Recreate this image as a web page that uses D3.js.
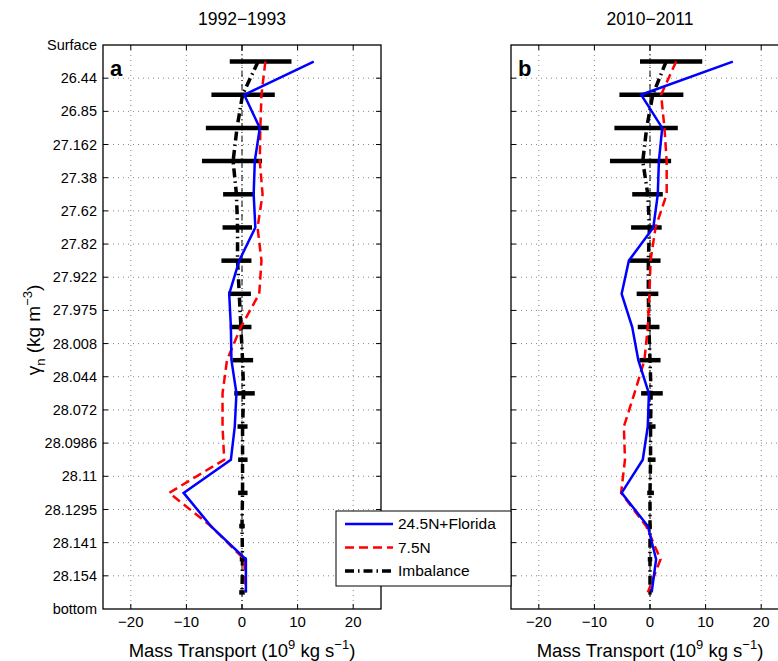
<!DOCTYPE html>
<html>
<head>
<meta charset="utf-8">
<script src="https://cdn.jsdelivr.net/npm/d3@7"></script>
<style>
  body { margin: 0; background: #fff; }
  svg text { font-family: Arial, "Liberation Sans", Helvetica, sans-serif; fill: #000; }
</style>
</head>
<body>
<svg id="chart" width="778" height="661"></svg>
<script>
// density class boundaries (surface -> bottom)
var layerLabels = ["Surface", "26.44", "26.85", "27.162", "27.38", "27.62", "27.82", "27.922",
                   "27.975", "28.008", "28.044", "28.072", "28.0986", "28.11", "28.1295",
                   "28.141", "28.154", "bottom"];
var xTicks = [-20, -10, 0, 10, 20];
var panelTitles = ["1992\u22121993", "2010\u22122011"];
var panelLetters = ["a", "b"];
var seriesNames = ["24.5N+Florida", "7.5N", "Imbalance"];

// 1992-1993, one value per layer (17 layers)
var northA = [12.9, 0.4, 3.2, 2.3, 2.1, 2.4, -0.5, -2.3, -2.0, -1.9, -1.0, -1.3, -2.0, -10.5, -5.6, 0.7, 0.7];
var southA = [4.2, 3.5, 3.3, 3.2, 3.7, 2.8, 3.5, 3.1, -0.2, -2.7, -3.5, -3.5, -3.2, -13.1, -5.6, 0.4, 0.7];
var imbalA = [2.9, 0.1, -0.9, -1.6, -1.0, -0.8, -0.8, -0.5, -0.2, 0.1, 0.3, 0.1, 0.1, 0.1, 0.0, 0.1, 0.0];
var errLoA = [-2.2, -5.5, -6.5, -7.2, -3.4, -3.5, -3.7, -2.5, -2.2, -1.7, -1.4, -0.8, -0.7, -0.7, -0.5, -0.4, -0.5];
var errHiA = [8.9, 5.9, 4.8, 3.6, 2.2, 1.8, 1.7, 1.6, 1.7, 2.0, 2.3, 1.0, 1.0, 1.0, 0.5, 0.8, 0.5];

// 2010-2011
var northB = [14.9, -1.6, 2.2, 1.6, 1.4, 0.6, -3.8, -5.1, -3.2, -2.1, -0.2, -0.4, -1.3, -5.1, -0.4, 1.1, 0.3];
var southB = [4.7, 2.0, 2.6, 3.0, 3.0, 1.0, 0.1, -0.1, -0.4, -1.0, -2.8, -4.7, -4.5, -5.2, -0.7, 1.9, -0.4];
var imbalB = [2.9, 0.5, -0.6, -1.3, -0.4, -0.1, -0.3, -0.3, -0.2, 0.0, 0.2, 0.1, 0.1, 0.0, 0.0, 0.0, 0.0];
var errLoB = [-1.8, -5.5, -6.4, -7.2, -3.2, -3.4, -3.7, -2.4, -2.2, -1.9, -1.6, -0.5, -0.4, -0.5, -0.3, -0.4, -0.3];
var errHiB = [9.4, 6.0, 5.0, 3.8, 2.3, 2.1, 1.9, 1.5, 1.7, 1.9, 2.3, 1.0, 1.0, 0.7, 0.3, 0.4, 0.3];

var panels = [
  {left: 103, north: northA, south: southA, imbal: imbalA, lo: errLoA, hi: errHiA},
  {left: 511, north: northB, south: southB, imbal: imbalB, lo: errLoB, hi: errHiB}
];

var svg = d3.select("#chart");
var plotTop = 45, plotBottom = 609, pw = 278;

// y: boundary index 0..17, layers sit at index i + 0.5
var y = d3.scaleLinear().domain([0, layerLabels.length - 1]).range([plotTop, plotBottom]);

panels.forEach(function(p, k) {
  var x = d3.scaleLinear().domain([-25, 25]).range([p.left, p.left + pw]);
  var g = svg.append("g");

  // grid
  g.selectAll(".gx").data(xTicks).enter().append("line")
    .attr("x1", d => x(d)).attr("x2", d => x(d)).attr("y1", plotTop).attr("y2", plotBottom)
    .attr("stroke", "#666").attr("stroke-width", 0.8).attr("stroke-dasharray", "1,4");
  g.selectAll(".gy").data(d3.range(1, layerLabels.length - 1)).enter().append("line")
    .attr("x1", p.left).attr("x2", p.left + pw).attr("y1", d => y(d)).attr("y2", d => y(d))
    .attr("stroke", "#666").attr("stroke-width", 0.8).attr("stroke-dasharray", "1,4");

  // zero line
  g.append("line").attr("x1", x(0)).attr("x2", x(0)).attr("y1", plotTop).attr("y2", plotBottom)
    .attr("stroke", "#000").attr("stroke-width", 1).attr("stroke-dasharray", "6,3,1,3");

  // ticks (inward)
  xTicks.forEach(function(t) {
    g.append("line").attr("x1", x(t)).attr("x2", x(t)).attr("y1", plotBottom).attr("y2", plotBottom - 5).attr("stroke", "#000");
    g.append("line").attr("x1", x(t)).attr("x2", x(t)).attr("y1", plotTop).attr("y2", plotTop + 5).attr("stroke", "#000");
  });
  d3.range(1, layerLabels.length - 1).forEach(function(i) {
    g.append("line").attr("x1", p.left).attr("x2", p.left + 5).attr("y1", y(i)).attr("y2", y(i)).attr("stroke", "#000");
    g.append("line").attr("x1", p.left + pw).attr("x2", p.left + pw - 5).attr("y1", y(i)).attr("y2", y(i)).attr("stroke", "#000");
  });

  var idx = d3.range(p.north.length);

  // error bars
  g.selectAll(".err").data(idx).enter().append("line")
    .attr("x1", i => x(p.lo[i])).attr("x2", i => x(p.hi[i]))
    .attr("y1", i => y(i + 0.5)).attr("y2", i => y(i + 0.5))
    .attr("stroke", "#000").attr("stroke-width", 4.5);

  var line = function(vals) {
    return d3.line().x(i => x(vals[i])).y(i => y(i + 0.5))(idx);
  };

  g.append("path").attr("d", line(p.imbal)).attr("fill", "none")
    .attr("stroke", "#000").attr("stroke-width", 3.5).attr("stroke-dasharray", "9,4,1.5,4");
  g.append("path").attr("d", line(p.south)).attr("fill", "none")
    .attr("stroke", "#ff0000").attr("stroke-width", 2.5).attr("stroke-dasharray", "9,5");
  g.append("path").attr("d", line(p.north)).attr("fill", "none")
    .attr("stroke", "#0000ff").attr("stroke-width", 2.5);

  // frame
  g.append("rect").attr("x", p.left).attr("y", plotTop).attr("width", pw).attr("height", plotBottom - plotTop)
    .attr("fill", "none").attr("stroke", "#000").attr("stroke-width", 1.3);

  // x tick labels
  g.selectAll(".xl").data(xTicks).enter().append("text")
    .attr("x", d => x(d)).attr("y", 627).attr("text-anchor", "middle").attr("font-size", 15)
    .text(d => d < 0 ? "\u2212" + Math.abs(d) : d);

  // x axis label
  var xl = g.append("text").attr("x", p.left + pw / 2).attr("y", 657)
    .attr("text-anchor", "middle").attr("font-size", 18.5);
  xl.append("tspan").text("Mass Transport (10");
  xl.append("tspan").attr("dy", -8).attr("font-size", 13).text("9");
  xl.append("tspan").attr("dy", 8).text(" kg s");
  xl.append("tspan").attr("dy", -8).attr("font-size", 13).text("\u22121");
  xl.append("tspan").attr("dy", 8).text(")");

  // title & letter
  g.append("text").attr("x", p.left + pw / 2).attr("y", 25).attr("text-anchor", "middle")
    .attr("font-size", 17.5).text(panelTitles[k]);
  g.append("text").attr("x", p.left + 7).attr("y", 76).attr("font-size", 22)
    .attr("font-weight", "bold").text(panelLetters[k]);
});

// y tick labels (left panel only)
svg.selectAll(".yl").data(layerLabels).enter().append("text")
  .attr("x", 97).attr("y", (d, i) => y(i)).attr("dy", "0.35em")
  .attr("text-anchor", "end").attr("font-size", 14.5).text(d => d);

// y axis label
var yl = svg.append("text").attr("transform", "translate(40,330) rotate(-90)")
  .attr("text-anchor", "middle").attr("font-size", 19);
yl.append("tspan").text("\u03b3");
yl.append("tspan").attr("dy", 5).attr("font-size", 13).text("n");
yl.append("tspan").attr("dy", -5).text(" (kg m");
yl.append("tspan").attr("dy", -8).attr("font-size", 13).text("\u22123");
yl.append("tspan").attr("dy", 8).text(")");

// legend
var lg = svg.append("g").attr("transform", "translate(336,511)");
lg.append("rect").attr("width", 175).attr("height", 75).attr("fill", "#fff")
  .attr("stroke", "#000").attr("stroke-width", 1);
var legendStyles = [
  {color: "#0000ff", dash: null, w: 2.5},
  {color: "#ff0000", dash: "9,5", w: 2.5},
  {color: "#000", dash: "9,4,1.5,4", w: 3.5}
];
seriesNames.forEach(function(name, i) {
  var yy = 13 + i * 23.5;
  lg.append("line").attr("x1", 9).attr("x2", 57).attr("y1", yy).attr("y2", yy)
    .attr("stroke", legendStyles[i].color).attr("stroke-width", legendStyles[i].w)
    .attr("stroke-dasharray", legendStyles[i].dash);
  lg.append("text").attr("x", 62).attr("y", yy).attr("dy", "0.35em")
    .attr("font-size", 15.5).text(name);
});
</script>
</body>
</html>
